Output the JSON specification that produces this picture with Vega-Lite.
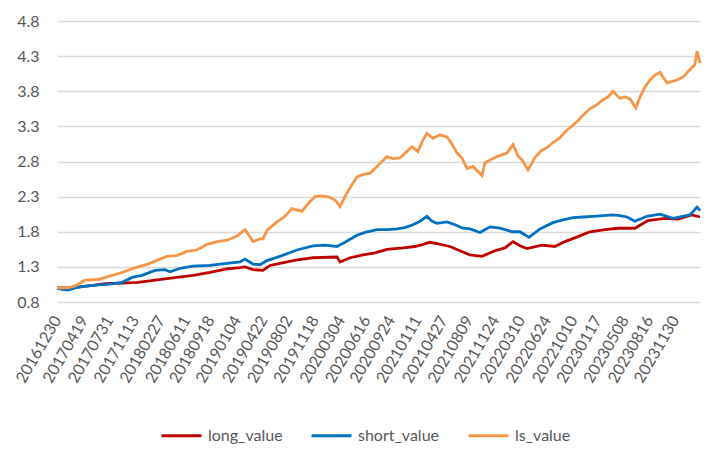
{
  "$schema": "https://vega.github.io/schema/vega-lite/v6.json",
  "width": 643,
  "height": 281,
  "autosize": {"type": "none"},
  "padding": {"left": 57, "top": 21, "right": 23, "bottom": 154},
  "background": "white",
  "config": {"view": {"stroke": null}, "font": "Lato"},
  "data": {"values": [
    {"d":"2016-12-30","s":"long_value","v":1.00},
    {"d":"2017-02-13","s":"long_value","v":1.00},
    {"d":"2017-04-11","s":"long_value","v":1.02},
    {"d":"2017-06-03","s":"long_value","v":1.04},
    {"d":"2017-07-14","s":"long_value","v":1.06},
    {"d":"2017-09-22","s":"long_value","v":1.07},
    {"d":"2017-11-26","s":"long_value","v":1.08},
    {"d":"2018-02-04","s":"long_value","v":1.11},
    {"d":"2018-03-16","s":"long_value","v":1.13},
    {"d":"2018-05-04","s":"long_value","v":1.15},
    {"d":"2018-07-09","s":"long_value","v":1.18},
    {"d":"2018-09-16","s":"long_value","v":1.22},
    {"d":"2018-11-25","s":"long_value","v":1.27},
    {"d":"2019-01-17","s":"long_value","v":1.29},
    {"d":"2019-02-06","s":"long_value","v":1.30},
    {"d":"2019-03-11","s":"long_value","v":1.26},
    {"d":"2019-04-21","s":"long_value","v":1.25},
    {"d":"2019-05-20","s":"long_value","v":1.32},
    {"d":"2019-06-29","s":"long_value","v":1.35},
    {"d":"2019-09-07","s":"long_value","v":1.40},
    {"d":"2019-11-11","s":"long_value","v":1.43},
    {"d":"2020-02-17","s":"long_value","v":1.44},
    {"d":"2020-03-01","s":"long_value","v":1.37},
    {"d":"2020-04-11","s":"long_value","v":1.43},
    {"d":"2020-06-03","s":"long_value","v":1.47},
    {"d":"2020-07-22","s":"long_value","v":1.50},
    {"d":"2020-09-09","s":"long_value","v":1.55},
    {"d":"2020-11-13","s":"long_value","v":1.57},
    {"d":"2021-01-01","s":"long_value","v":1.59},
    {"d":"2021-02-03","s":"long_value","v":1.62},
    {"d":"2021-03-03","s":"long_value","v":1.65},
    {"d":"2021-04-01","s":"long_value","v":1.63},
    {"d":"2021-05-24","s":"long_value","v":1.59},
    {"d":"2021-07-04","s":"long_value","v":1.53},
    {"d":"2021-08-14","s":"long_value","v":1.47},
    {"d":"2021-10-02","s":"long_value","v":1.45},
    {"d":"2021-11-24","s":"long_value","v":1.53},
    {"d":"2022-01-04","s":"long_value","v":1.57},
    {"d":"2022-02-06","s":"long_value","v":1.66},
    {"d":"2022-03-06","s":"long_value","v":1.60},
    {"d":"2022-04-04","s":"long_value","v":1.56},
    {"d":"2022-06-04","s":"long_value","v":1.61},
    {"d":"2022-07-27","s":"long_value","v":1.59},
    {"d":"2022-09-06","s":"long_value","v":1.66},
    {"d":"2022-10-29","s":"long_value","v":1.73},
    {"d":"2022-12-17","s":"long_value","v":1.80},
    {"d":"2023-02-17","s":"long_value","v":1.83},
    {"d":"2023-04-11","s":"long_value","v":1.85},
    {"d":"2023-06-19","s":"long_value","v":1.85},
    {"d":"2023-08-11","s":"long_value","v":1.96},
    {"d":"2023-10-20","s":"long_value","v":1.99},
    {"d":"2023-12-12","s":"long_value","v":1.98},
    {"d":"2024-02-07","s":"long_value","v":2.04},
    {"d":"2024-03-11","s":"long_value","v":2.01},

    {"d":"2016-12-30","s":"short_value","v":1.00},
    {"d":"2017-01-19","s":"short_value","v":0.98},
    {"d":"2017-02-13","s":"short_value","v":0.97},
    {"d":"2017-03-14","s":"short_value","v":1.00},
    {"d":"2017-04-11","s":"short_value","v":1.02},
    {"d":"2017-06-03","s":"short_value","v":1.04},
    {"d":"2017-07-26","s":"short_value","v":1.05},
    {"d":"2017-09-22","s":"short_value","v":1.08},
    {"d":"2017-11-02","s":"short_value","v":1.15},
    {"d":"2017-12-12","s":"short_value","v":1.18},
    {"d":"2018-02-04","s":"short_value","v":1.25},
    {"d":"2018-03-16","s":"short_value","v":1.26},
    {"d":"2018-04-06","s":"short_value","v":1.23},
    {"d":"2018-05-17","s":"short_value","v":1.28},
    {"d":"2018-07-09","s":"short_value","v":1.31},
    {"d":"2018-09-16","s":"short_value","v":1.32},
    {"d":"2018-11-25","s":"short_value","v":1.35},
    {"d":"2019-01-17","s":"short_value","v":1.37},
    {"d":"2019-02-06","s":"short_value","v":1.41},
    {"d":"2019-03-11","s":"short_value","v":1.34},
    {"d":"2019-04-09","s":"short_value","v":1.33},
    {"d":"2019-05-07","s":"short_value","v":1.39},
    {"d":"2019-06-29","s":"short_value","v":1.45},
    {"d":"2019-09-07","s":"short_value","v":1.54},
    {"d":"2019-11-11","s":"short_value","v":1.60},
    {"d":"2019-12-30","s":"short_value","v":1.61},
    {"d":"2020-02-17","s":"short_value","v":1.59},
    {"d":"2020-03-21","s":"short_value","v":1.65},
    {"d":"2020-05-09","s":"short_value","v":1.75},
    {"d":"2020-06-11","s":"short_value","v":1.79},
    {"d":"2020-07-30","s":"short_value","v":1.83},
    {"d":"2020-09-09","s":"short_value","v":1.83},
    {"d":"2020-10-20","s":"short_value","v":1.84},
    {"d":"2020-11-21","s":"short_value","v":1.86},
    {"d":"2020-12-24","s":"short_value","v":1.90},
    {"d":"2021-01-22","s":"short_value","v":1.95},
    {"d":"2021-02-19","s":"short_value","v":2.02},
    {"d":"2021-03-12","s":"short_value","v":1.95},
    {"d":"2021-04-01","s":"short_value","v":1.92},
    {"d":"2021-05-12","s":"short_value","v":1.94},
    {"d":"2021-06-14","s":"short_value","v":1.90},
    {"d":"2021-07-16","s":"short_value","v":1.85},
    {"d":"2021-08-14","s":"short_value","v":1.84},
    {"d":"2021-09-24","s":"short_value","v":1.79},
    {"d":"2021-11-04","s":"short_value","v":1.87},
    {"d":"2021-12-15","s":"short_value","v":1.85},
    {"d":"2022-02-02","s":"short_value","v":1.80},
    {"d":"2022-03-06","s":"short_value","v":1.80},
    {"d":"2022-04-12","s":"short_value","v":1.72},
    {"d":"2022-05-27","s":"short_value","v":1.84},
    {"d":"2022-07-19","s":"short_value","v":1.93},
    {"d":"2022-08-29","s":"short_value","v":1.97},
    {"d":"2022-10-09","s":"short_value","v":2.00},
    {"d":"2022-11-19","s":"short_value","v":2.01},
    {"d":"2022-12-30","s":"short_value","v":2.02},
    {"d":"2023-02-09","s":"short_value","v":2.03},
    {"d":"2023-03-21","s":"short_value","v":2.04},
    {"d":"2023-04-19","s":"short_value","v":2.03},
    {"d":"2023-05-18","s":"short_value","v":2.01},
    {"d":"2023-06-19","s":"short_value","v":1.95},
    {"d":"2023-08-07","s":"short_value","v":2.02},
    {"d":"2023-09-29","s":"short_value","v":2.05},
    {"d":"2023-11-22","s":"short_value","v":1.99},
    {"d":"2024-01-01","s":"short_value","v":2.02},
    {"d":"2024-01-30","s":"short_value","v":2.04},
    {"d":"2024-02-28","s":"short_value","v":2.15},
    {"d":"2024-03-11","s":"short_value","v":2.10},

    {"d":"2016-12-30","s":"ls_value","v":1.00},
    {"d":"2017-02-13","s":"ls_value","v":1.00},
    {"d":"2017-03-14","s":"ls_value","v":1.03},
    {"d":"2017-04-23","s":"ls_value","v":1.11},
    {"d":"2017-06-16","s":"ls_value","v":1.12},
    {"d":"2017-07-26","s":"ls_value","v":1.16},
    {"d":"2017-09-22","s":"ls_value","v":1.22},
    {"d":"2017-11-14","s":"ls_value","v":1.29},
    {"d":"2018-01-06","s":"ls_value","v":1.34},
    {"d":"2018-02-16","s":"ls_value","v":1.40},
    {"d":"2018-03-25","s":"ls_value","v":1.45},
    {"d":"2018-05-04","s":"ls_value","v":1.46},
    {"d":"2018-06-14","s":"ls_value","v":1.52},
    {"d":"2018-07-25","s":"ls_value","v":1.54},
    {"d":"2018-09-04","s":"ls_value","v":1.62},
    {"d":"2018-10-15","s":"ls_value","v":1.66},
    {"d":"2018-11-25","s":"ls_value","v":1.68},
    {"d":"2019-01-05","s":"ls_value","v":1.74},
    {"d":"2019-02-06","s":"ls_value","v":1.83},
    {"d":"2019-02-27","s":"ls_value","v":1.73},
    {"d":"2019-03-11","s":"ls_value","v":1.66},
    {"d":"2019-04-09","s":"ls_value","v":1.70},
    {"d":"2019-04-21","s":"ls_value","v":1.70},
    {"d":"2019-05-07","s":"ls_value","v":1.82},
    {"d":"2019-06-17","s":"ls_value","v":1.94},
    {"d":"2019-07-20","s":"ls_value","v":2.02},
    {"d":"2019-08-17","s":"ls_value","v":2.13},
    {"d":"2019-09-27","s":"ls_value","v":2.09},
    {"d":"2019-10-22","s":"ls_value","v":2.20},
    {"d":"2019-11-19","s":"ls_value","v":2.30},
    {"d":"2019-12-18","s":"ls_value","v":2.31},
    {"d":"2020-01-20","s":"ls_value","v":2.29},
    {"d":"2020-02-13","s":"ls_value","v":2.24},
    {"d":"2020-03-01","s":"ls_value","v":2.16},
    {"d":"2020-03-21","s":"ls_value","v":2.30},
    {"d":"2020-04-15","s":"ls_value","v":2.45},
    {"d":"2020-05-09","s":"ls_value","v":2.58},
    {"d":"2020-06-07","s":"ls_value","v":2.62},
    {"d":"2020-07-01","s":"ls_value","v":2.63},
    {"d":"2020-07-30","s":"ls_value","v":2.73},
    {"d":"2020-09-09","s":"ls_value","v":2.87},
    {"d":"2020-10-03","s":"ls_value","v":2.84},
    {"d":"2020-11-01","s":"ls_value","v":2.85},
    {"d":"2020-11-25","s":"ls_value","v":2.93},
    {"d":"2020-12-20","s":"ls_value","v":3.01},
    {"d":"2021-01-13","s":"ls_value","v":2.94},
    {"d":"2021-01-30","s":"ls_value","v":3.08},
    {"d":"2021-02-19","s":"ls_value","v":3.20},
    {"d":"2021-03-16","s":"ls_value","v":3.13},
    {"d":"2021-04-13","s":"ls_value","v":3.18},
    {"d":"2021-05-12","s":"ls_value","v":3.15},
    {"d":"2021-06-01","s":"ls_value","v":3.05},
    {"d":"2021-06-22","s":"ls_value","v":2.92},
    {"d":"2021-07-12","s":"ls_value","v":2.85},
    {"d":"2021-08-02","s":"ls_value","v":2.70},
    {"d":"2021-08-26","s":"ls_value","v":2.73},
    {"d":"2021-10-02","s":"ls_value","v":2.60},
    {"d":"2021-10-14","s":"ls_value","v":2.78},
    {"d":"2021-11-04","s":"ls_value","v":2.82},
    {"d":"2021-12-02","s":"ls_value","v":2.87},
    {"d":"2022-01-12","s":"ls_value","v":2.92},
    {"d":"2022-02-06","s":"ls_value","v":3.04},
    {"d":"2022-02-26","s":"ls_value","v":2.88},
    {"d":"2022-03-15","s":"ls_value","v":2.82},
    {"d":"2022-04-08","s":"ls_value","v":2.68},
    {"d":"2022-05-07","s":"ls_value","v":2.86},
    {"d":"2022-05-31","s":"ls_value","v":2.95},
    {"d":"2022-06-25","s":"ls_value","v":3.00},
    {"d":"2022-07-19","s":"ls_value","v":3.07},
    {"d":"2022-08-17","s":"ls_value","v":3.14},
    {"d":"2022-09-06","s":"ls_value","v":3.22},
    {"d":"2022-09-27","s":"ls_value","v":3.28},
    {"d":"2022-10-29","s":"ls_value","v":3.38},
    {"d":"2022-11-19","s":"ls_value","v":3.46},
    {"d":"2022-12-17","s":"ls_value","v":3.55},
    {"d":"2023-01-15","s":"ls_value","v":3.61},
    {"d":"2023-02-09","s":"ls_value","v":3.68},
    {"d":"2023-03-01","s":"ls_value","v":3.72},
    {"d":"2023-03-21","s":"ls_value","v":3.80},
    {"d":"2023-04-07","s":"ls_value","v":3.74},
    {"d":"2023-04-19","s":"ls_value","v":3.70},
    {"d":"2023-05-09","s":"ls_value","v":3.72},
    {"d":"2023-05-30","s":"ls_value","v":3.69},
    {"d":"2023-06-23","s":"ls_value","v":3.56},
    {"d":"2023-07-10","s":"ls_value","v":3.72},
    {"d":"2023-07-30","s":"ls_value","v":3.86},
    {"d":"2023-08-20","s":"ls_value","v":3.96},
    {"d":"2023-09-09","s":"ls_value","v":4.03},
    {"d":"2023-09-29","s":"ls_value","v":4.07},
    {"d":"2023-10-16","s":"ls_value","v":3.98},
    {"d":"2023-10-28","s":"ls_value","v":3.92},
    {"d":"2023-11-18","s":"ls_value","v":3.94},
    {"d":"2023-12-08","s":"ls_value","v":3.96},
    {"d":"2024-01-01","s":"ls_value","v":4.00},
    {"d":"2024-01-30","s":"ls_value","v":4.11},
    {"d":"2024-02-19","s":"ls_value","v":4.18},
    {"d":"2024-02-28","s":"ls_value","v":4.37},
    {"d":"2024-03-11","s":"ls_value","v":4.20}
  ]},
  "mark": {"type": "line", "strokeWidth": 2.8},
  "encoding": {
    "x": {
      "field": "d",
      "type": "temporal",
      "scale": {
        "type": "utc",
        "nice": false,
        "domain": [
          {"year": 2016, "month": 12, "date": 30, "utc": true},
          {"year": 2024, "month": 3, "date": 11, "utc": true}
        ]
      },
      "axis": {
        "title": null,
        "values": [
          {"year": 2016, "month": 12, "date": 30, "utc": true},
          {"year": 2017, "month": 4, "date": 19, "utc": true},
          {"year": 2017, "month": 7, "date": 31, "utc": true},
          {"year": 2017, "month": 11, "date": 13, "utc": true},
          {"year": 2018, "month": 2, "date": 27, "utc": true},
          {"year": 2018, "month": 6, "date": 11, "utc": true},
          {"year": 2018, "month": 9, "date": 18, "utc": true},
          {"year": 2019, "month": 1, "date": 4, "utc": true},
          {"year": 2019, "month": 4, "date": 22, "utc": true},
          {"year": 2019, "month": 8, "date": 2, "utc": true},
          {"year": 2019, "month": 11, "date": 18, "utc": true},
          {"year": 2020, "month": 3, "date": 4, "utc": true},
          {"year": 2020, "month": 6, "date": 16, "utc": true},
          {"year": 2020, "month": 9, "date": 24, "utc": true},
          {"year": 2021, "month": 1, "date": 11, "utc": true},
          {"year": 2021, "month": 4, "date": 27, "utc": true},
          {"year": 2021, "month": 8, "date": 9, "utc": true},
          {"year": 2021, "month": 11, "date": 24, "utc": true},
          {"year": 2022, "month": 3, "date": 10, "utc": true},
          {"year": 2022, "month": 6, "date": 24, "utc": true},
          {"year": 2022, "month": 10, "date": 10, "utc": true},
          {"year": 2023, "month": 1, "date": 17, "utc": true},
          {"year": 2023, "month": 5, "date": 8, "utc": true},
          {"year": 2023, "month": 8, "date": 16, "utc": true},
          {"year": 2023, "month": 11, "date": 30, "utc": true}
        ],
        "labelExpr": "utcFormat(datum.value, '%Y%m%d')",
        "labelAngle": -60,
        "labelFontSize": 16,
        "labelColor": "#595959",
        "labelPadding": 15,
        "labelOverlap": false,
        "labelFlush": false,
        "labelBound": false,
        "ticks": false,
        "domain": false,
        "grid": false
      }
    },
    "y": {
      "field": "v",
      "type": "quantitative",
      "scale": {"domain": [0.8, 4.8], "nice": false, "zero": false},
      "axis": {
        "title": null,
        "values": [0.8, 1.3, 1.8, 2.3, 2.8, 3.3, 3.8, 4.3, 4.8],
        "format": ".1f",
        "domain": false,
        "ticks": false,
        "gridColor": "#d9d9d9",
        "gridWidth": 1.3,
        "labelFontSize": 16,
        "labelColor": "#595959",
        "labelPadding": 18
      }
    },
    "color": {
      "field": "s",
      "type": "nominal",
      "scale": {
        "domain": ["long_value", "short_value", "ls_value"],
        "range": ["#C00000", "#0070C0", "#F79646"]
      },
      "legend": {
        "orient": "none",
        "legendX": 103,
        "legendY": 393,
        "direction": "horizontal",
        "title": null,
        "symbolType": "stroke",
        "symbolSize": 1600,
        "symbolStrokeWidth": 3,
        "labelFontSize": 16,
        "labelColor": "#595959",
        "labelOffset": 5,
        "columnPadding": 22
      }
    }
  }
}
